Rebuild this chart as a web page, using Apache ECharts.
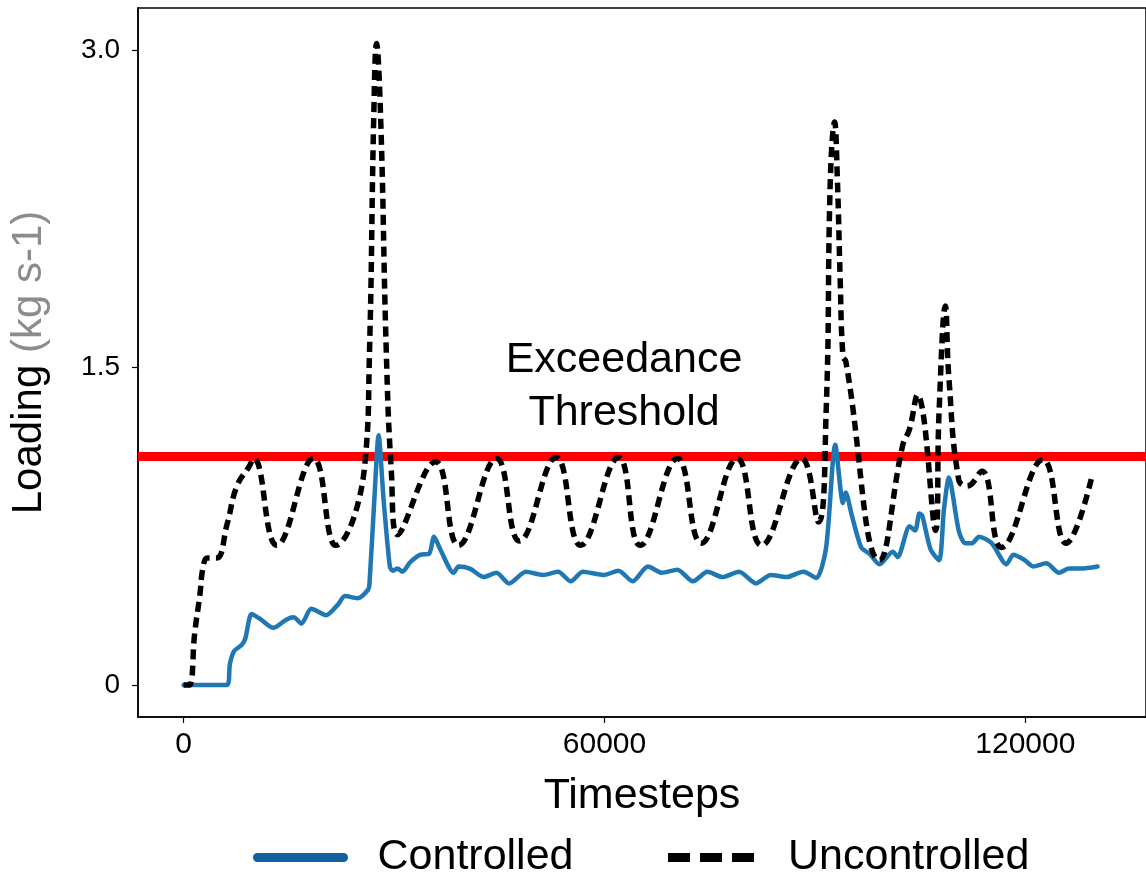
<!DOCTYPE html>
<html><head><meta charset="utf-8">
<script src="https://cdn.jsdelivr.net/npm/echarts@6/dist/echarts.min.js"></script>
<style>html,body{margin:0;padding:0;background:#fff}#c{width:1146px;height:877px}</style>
</head><body><div id="c"></div>
<script>
// ---- data ----
const ctrlT = [0, 6200, 6600, 7200, 8300, 8800, 9700, 11000, 12800, 14700, 15700, 16800, 18200, 20300, 22000, 23000, 24800, 26300, 26500, 27200, 27800, 28500, 29400, 29800, 30500, 31200, 32300, 33700, 35000, 35700, 36600, 38500, 39200, 40800, 42800, 44600, 46400, 48800, 51200, 53400, 55200, 56900, 59900, 62000, 64000, 66200, 68200, 70400, 72600, 74700, 76800, 79200, 81600, 83700, 86000, 87700, 88400, 90200, 91600, 92900, 94000, 94400, 95200, 96600, 97800, 99200, 101100, 101800, 103500, 104300, 104900, 105300, 106500, 107700, 108400, 109100, 110500, 111400, 112400, 113400, 115200, 117300, 118300, 119900, 121100, 123000, 124800, 126200, 127900, 130300];
const ctrlV = [0, 0, 0.10, 0.16, 0.19, 0.22, 0.335, 0.31, 0.27, 0.31, 0.32, 0.29, 0.36, 0.33, 0.38, 0.42, 0.41, 0.45, 0.48, 0.88, 1.18, 0.88, 0.56, 0.54, 0.55, 0.535, 0.58, 0.615, 0.62, 0.70, 0.64, 0.53, 0.56, 0.55, 0.51, 0.53, 0.48, 0.535, 0.52, 0.535, 0.49, 0.535, 0.52, 0.54, 0.49, 0.56, 0.53, 0.545, 0.49, 0.535, 0.51, 0.535, 0.48, 0.52, 0.51, 0.53, 0.535, 0.505, 0.65, 1.135, 0.86, 0.91, 0.81, 0.65, 0.62, 0.57, 0.63, 0.605, 0.75, 0.73, 0.81, 0.80, 0.64, 0.59, 0.83, 0.98, 0.73, 0.67, 0.67, 0.70, 0.67, 0.57, 0.615, 0.59, 0.56, 0.575, 0.53, 0.55, 0.55, 0.56];
const unctrlT = [0, 800, 1600, 2300, 2800, 3400, 4700, 6200, 7600, 9300, 10000, 13300, 18500, 21700, 25800, 26500, 27100, 27500, 28100, 28900, 29600, 30500, 35900, 39200, 44600, 47900, 53100, 56600, 62000, 65100, 70400, 73800, 78900, 82400, 88100, 90500, 91600, 92200, 92800, 93200, 93600, 94000, 94400, 99200, 102500, 103500, 104600, 107200, 107700, 108600, 109100, 110500, 111700, 113800, 116600, 122500, 125800, 129600];
const unctrlV = [0, 0, 0.25, 0.42, 0.56, 0.60, 0.60, 0.76, 0.94, 1.03, 1.07, 0.66, 1.07, 0.66, 1.03, 1.57, 2.67, 3.03, 2.67, 1.57, 1.02, 0.71, 1.055, 0.66, 1.07, 0.68, 1.075, 0.66, 1.075, 0.66, 1.07, 0.67, 1.07, 0.66, 1.07, 0.77, 1.29, 2.39, 2.66, 2.39, 1.92, 1.55, 1.53, 0.59, 1.13, 1.21, 1.37, 0.73, 1.29, 1.79, 1.45, 0.97, 0.94, 1.01, 0.65, 1.065, 0.67, 1.0];
const THRESHOLD = 1.08;
const xTicks = [0, 60000, 120000];
const yTicks = [0, 1.5, 3.0];
const X_MIN = -6500, X_MAX = 137200, Y_MIN = -0.151, Y_MAX = 3.198;

const FONT = '"Liberation Sans", Arial, Helvetica, sans-serif';
const zip = (a, b) => a.map((v, i) => [v, b[i]]);

const chart = echarts.init(document.getElementById('c'), null, {renderer: 'canvas'});
chart.setOption({
  animation: false,
  backgroundColor: '#fff',
  grid: {left: 138, top: 8, right: -10, bottom: 160, show: true, borderColor: '#000', borderWidth: 1.5, backgroundColor: 'transparent'},
  xAxis: {
    type: 'value', min: X_MIN, max: X_MAX,
    name: 'Timesteps', nameLocation: 'middle', nameGap: 58,
    nameTextStyle: {fontFamily: FONT, fontSize: 43, color: '#000'},
    axisLine: {show: true, onZero: false, lineStyle: {color: '#000', width: 1.5}},
    axisTick: {show: true, customValues: xTicks, length: 6, lineStyle: {color: '#000', width: 1.2}},
    axisLabel: {customValues: xTicks, fontFamily: FONT, fontSize: 30, color: '#000', margin: 13,
      formatter: v => String(v)},
    splitLine: {show: false}
  },
  yAxis: {
    type: 'value', min: Y_MIN, max: Y_MAX,
    name: '{a|Loading }{b|(kg s-1)}', nameLocation: 'middle', nameGap: 88, nameRotate: 90,
    nameTextStyle: {rich: {
      a: {fontFamily: FONT, fontSize: 42, color: '#000'},
      b: {fontFamily: FONT, fontSize: 42, color: '#8c8c8c'}
    }},
    axisLine: {show: true, onZero: false, lineStyle: {color: '#000', width: 1.5}},
    axisTick: {show: true, customValues: yTicks, length: 6, lineStyle: {color: '#000', width: 1.2}},
    axisLabel: {customValues: yTicks, fontFamily: FONT, fontSize: 28, color: '#000', margin: 18,
      formatter: v => v === 0 ? '0' : v.toFixed(1)},
    splitLine: {show: false}
  },
  legend: {
    show: true, type: 'plain', orient: 'horizontal',
    top: 831, left: 248, itemWidth: 86, itemHeight: 14, itemGap: 90,
    formatter: name => '{s|}' + name,
    textStyle: {fontFamily: FONT, fontSize: 43, color: '#000',
      rich: {s: {width: 29}}},
    data: [
      {name: 'Controlled', itemStyle: {color: 'rgba(0,0,0,0)', borderWidth: 0, opacity: 0},
        lineStyle: {width: 9, color: '#145f9c', cap: 'round'}},
      {name: 'Uncontrolled', itemStyle: {color: 'rgba(0,0,0,0)', borderWidth: 0, opacity: 0},
        lineStyle: {width: 9, type: [22, 10], color: '#000'}}
    ]
  },
  graphic: [{
    type: 'text', x: 624, y: 387, z: 10,
    style: {text: 'Exceedance\nThreshold', fontFamily: FONT, fontSize: 43, lineHeight: 53,
      align: 'center', verticalAlign: 'middle', fill: '#000'}
  }],
  series: [
    {name: 'Threshold', type: 'line', data: [[X_MIN, THRESHOLD], [X_MAX, THRESHOLD]],
      symbol: 'none', silent: true, z: 1, lineStyle: {color: '#ff0000', width: 9}},
    {name: 'Controlled', type: 'line', data: zip(ctrlT, ctrlV), symbol: 'none', z: 3,
      smooth: 0.25, color: '#1f77b4',
      lineStyle: {color: '#1f77b4', width: 4.5, join: 'round', cap: 'round'}},
    {name: 'Uncontrolled', type: 'line', data: zip(unctrlT, unctrlV), symbol: 'none', z: 4,
      smooth: 0.45, color: '#000',
      lineStyle: {color: '#000', width: 5.5, type: [10, 6]}}
  ]
});
</script></body></html>
